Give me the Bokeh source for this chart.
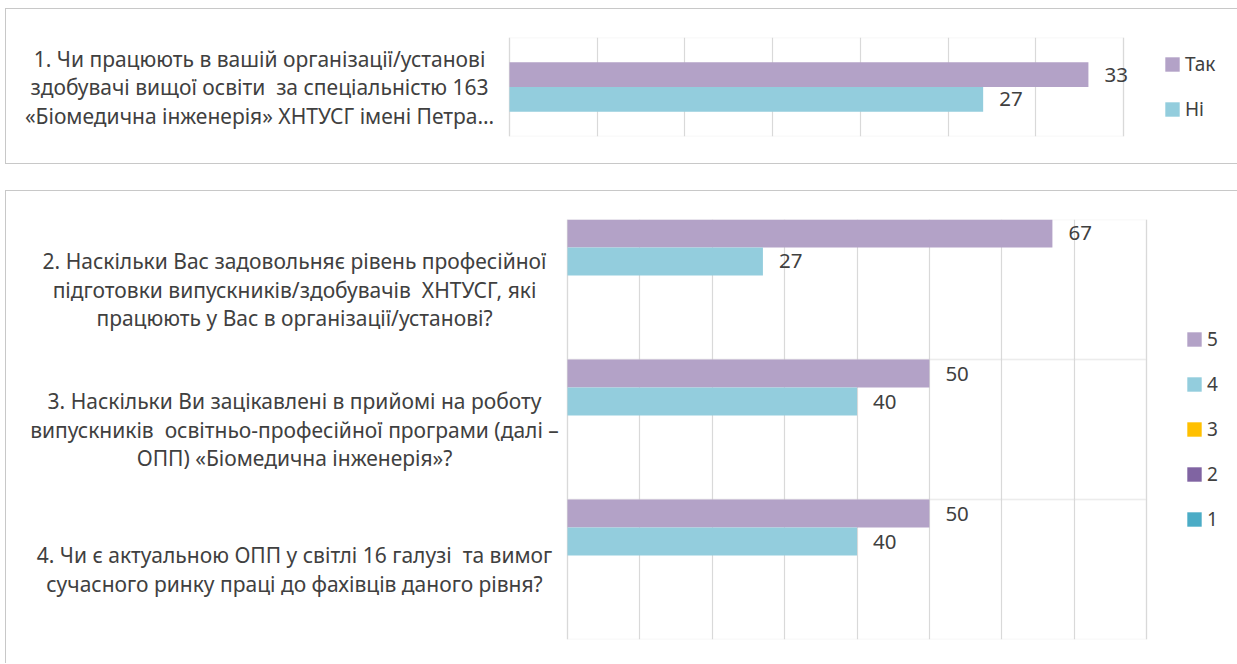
from bokeh.plotting import figure
from bokeh.models import (ColumnDataSource, FactorRange, Range1d, LabelSet, Legend,
                          LegendItem, SingleIntervalTicker, BoxAnnotation)
from bokeh.transform import dodge
from bokeh.core.properties import value
from bokeh.embed import file_html
from bokeh.resources import INLINE

# ---------------- data ----------------
top_questions = [
    "1. Чи працюють в вашій організації/установі\n"
    "здобувачі вищої освіти  за спеціальністю 163\n"
    "«Біомедична інженерія» ХНТУСГ імені Петра…"
]
top_series = ["Так", "Ні"]
top_tak = [33]
top_ni = [27]
top_max = 35
top_step = 5

bottom_questions = [
    "2. Наскільки Вас задовольняє рівень професійної\n"
    "підготовки випускників/здобувачів  ХНТУСГ, які\n"
    "працюють у Вас в організації/установі?",
    "3. Наскільки Ви зацікавлені в прийомі на роботу\n"
    "випускників  освітньо-професійної програми (далі –\n"
    "ОПП) «Біомедична інженерія»?",
    "4. Чи є актуальною ОПП у світлі 16 галузі  та вимог\n"
    "сучасного ринку праці до фахівців даного рівня?",
]
bottom_series = ["5", "4", "3", "2", "1"]
score5 = [67, 50, 50]
score4 = [27, 40, 40]
score3 = [0, 0, 0]
score2 = [0, 0, 0]
score1 = [0, 0, 0]
bottom_max = 80
bottom_step = 10

# ---------------- styles ----------------
FONT = "Noto Sans"
TXT = "#404040"
GRID = "#D9D9D9"
PANEL_BORDER = "1px solid #C8C8C8"
top_colors = ["#B3A2C7", "#93CDDD"]
bottom_colors = ["#B3A2C7", "#93CDDD", "#FFC000", "#8064A2", "#4BACC6"]
CANVAS_W = 1231
LINE_SP = 28.5


def make_chart(questions, series, values, colors, xmax, step, group_frac,
               area_left, area_w, frame_h, b_top, b_bottom, label_dx,
               legend_loc, legend_spacing, styles, margin, boundaries):
    # plot area [0, xmax] occupies canvas pixels area_left .. area_left+area_w
    ppu = area_w / xmax
    x_lo = -area_left / ppu
    x_hi = xmax + (CANVAS_W - area_left - area_w) / ppu
    factors = list(reversed(questions))
    p = figure(y_range=FactorRange(*factors), x_range=Range1d(x_lo, x_hi),
               frame_width=CANVAS_W, frame_height=frame_h,
               min_border_left=0, min_border_right=0,
               min_border_top=b_top, min_border_bottom=b_bottom,
               output_backend="svg", toolbar_location=None)
    p.xaxis.visible = False
    p.yaxis.visible = False
    p.ygrid.visible = False
    p.xgrid.ticker = SingleIntervalTicker(interval=step)
    p.xgrid.bounds = (0, xmax)
    p.xgrid.grid_line_color = GRID
    p.xgrid.grid_line_width = 1.2
    p.outline_line_color = None
    p.background_fill_color = "white"
    p.border_fill_color = "white"
    p.styles = styles
    p.margin = margin

    # plot-area border and category separators
    for k in range(len(questions)):
        if k == 0 or boundaries:
            p.add_layout(BoxAnnotation(left=0, right=xmax,
                                       bottom=k if boundaries else 0,
                                       top=k + 1 if boundaries else len(questions),
                                       fill_color=None, line_color=GRID,
                                       line_width=1.5, level="underlay"))

    n = len(series)
    h = group_frac / n
    items = []
    for i, (name, vals, col) in enumerate(zip(series, values, colors)):
        off = group_frac / 2 - h / 2 - i * h
        src = ColumnDataSource(dict(cat=list(questions), val=list(vals)))
        r = p.hbar(y=dodge("cat", off, range=p.y_range), left=0, right="val",
                   height=h, source=src, fill_color=col, line_color=None)
        items.append(LegendItem(label=name, renderers=[r]))
        nz = [j for j, v in enumerate(vals) if v > 0]
        if nz:
            lsrc = ColumnDataSource(dict(cat=[questions[j] for j in nz],
                                         val=[vals[j] for j in nz],
                                         txt=[str(vals[j]) for j in nz]))
            p.add_layout(LabelSet(x="val", y=dodge("cat", off, range=p.y_range),
                                  text="txt", source=lsrc, x_offset=16,
                                  text_align="left", text_baseline="middle",
                                  text_font=value(FONT), text_font_size="20.5px",
                                  text_color=TXT))

    # category texts, each line centred on its own
    cats, lines, yoffs = [], [], []
    for q in questions:
        parts = q.split("\n")
        m = len(parts)
        for li, part in enumerate(parts):
            cats.append(q)
            lines.append(part.replace("  ", " \u00a0"))
            yoffs.append(((m - 1) / 2 - li) * LINE_SP)
    qsrc = ColumnDataSource(dict(cat=cats, x0=[0] * len(cats), txt=lines, yo=yoffs))
    p.add_layout(LabelSet(x="x0", y=dodge("cat", 0, range=p.y_range), text="txt",
                          source=qsrc, x_offset=label_dx, y_offset="yo",
                          text_align="center", text_baseline="middle",
                          text_font=value(FONT), text_font_size="21px",
                          text_color=TXT))

    legend = Legend(items=items, location=legend_loc, orientation="vertical",
                    glyph_width=18, glyph_height=18, label_standoff=4,
                    spacing=legend_spacing, padding=0, margin=0,
                    border_line_color=None, background_fill_alpha=0,
                    label_text_font=FONT, label_text_font_size="19px",
                    label_text_color=TXT)
    p.add_layout(legend, "center")
    return p


p_top = make_chart(top_questions, top_series, [top_tak, top_ni], top_colors,
                   top_max, top_step, 0.5, 503, 614, 99, 28, 27, -250,
                   (1157, 14), 19,
                   {"border-top": PANEL_BORDER, "border-left": PANEL_BORDER,
                    "border-bottom": PANEL_BORDER}, (8, 0, 0, 5), False)

p_bottom = make_chart(bottom_questions, bottom_series,
                      [score5, score4, score3, score2, score1], bottom_colors,
                      bottom_max, bottom_step, 1.0, 561, 579, 420, 28, 24,
                      -273, (1179, 107), 19,
                      {"border-top": PANEL_BORDER, "border-left": PANEL_BORDER},
                      (26, 0, 0, 5), True)

open("out.html", "w").write(file_html([p_top, p_bottom], INLINE))
